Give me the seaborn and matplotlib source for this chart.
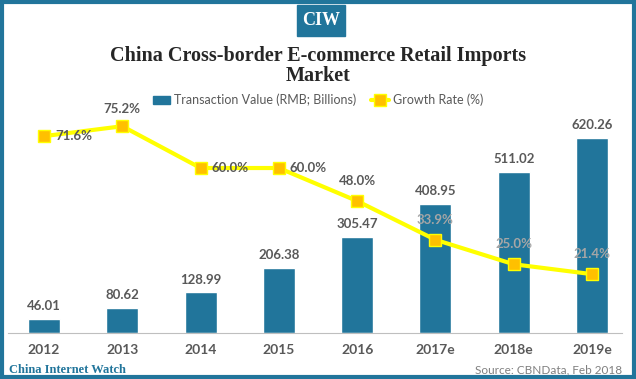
import numpy as np
import pandas as pd
import matplotlib.pyplot as plt
import seaborn as sns
from matplotlib.patches import Rectangle
from matplotlib.lines import Line2D

# data
years = ["2012", "2013", "2014", "2015", "2016", "2017e", "2018e", "2019e"]
transaction_value = [46.01, 80.62, 128.99, 206.38, 305.47, 408.95, 511.02, 620.26]
growth_rate = [71.6, 75.2, 60.0, 60.0, 48.0, 33.9, 25.0, 21.4]

bar_color = "#21759b"
line_color = "#ffff00"
marker_color = "#ffc000"
text_gray = "#595959"

sns.set_style("white")
plt.rcParams["font.family"] = ["Lato", "DejaVu Sans"]

df = pd.DataFrame({"year": years, "value": transaction_value, "growth": growth_rate})

fig = plt.figure(figsize=(6.36, 3.79), dpi=100)
W, H = 636, 379

# axes placement (pixels -> fig fraction)
L, R, B, T = 8, 622, 333, 110
ax = fig.add_axes([L / W, 1 - B / H, (R - L) / W, (B - T) / H])

sns.barplot(data=df, x="year", y="value", color=bar_color, width=0.41,
            saturation=1, ax=ax)
ax.set_xlim(-0.46, 7.383)
ax.set_ylim(0, 709)
for i, v in enumerate(transaction_value):
    ax.text(i, v + 22, f"{v:.2f}", ha="center", va="bottom", fontsize=9.5,
            color=text_gray, fontweight="bold")

ax2 = ax.twinx()
sns.lineplot(x=np.arange(len(years)), y=growth_rate, ax=ax2, color=line_color,
             linewidth=3, marker="s", markersize=8, markerfacecolor=marker_color,
             markeredgecolor=line_color, markeredgewidth=1)
ax2.set_ylim(0, 81.1)

# growth rate labels: (dx, dy) offsets in points
offsets = [(8, 0, "left"), (0, 8, "center"), (8, 0, "left"), (8, 0, "left"),
           (0, 10, "center"), (0, 10, "center"), (0, 10, "center"), (0, 10, "center")]
for i, g in enumerate(growth_rate):
    dx, dy, ha = offsets[i]
    col = "#a6a6a6" if i >= 5 else text_gray
    ax2.annotate(f"{g:.1f}%", (i, g), xytext=(dx, dy), textcoords="offset points",
                 ha=ha, va="center" if dy == 0 else "bottom", fontsize=9.5,
                 color=col, fontweight="bold")

for a in (ax, ax2):
    a.set_yticks([])
    a.set_ylabel("")
    for s in ("top", "left", "right"):
        a.spines[s].set_visible(False)
ax.spines["bottom"].set_color("#bfbfbf")
ax2.spines["bottom"].set_visible(False)
ax.set_xlabel("")
ax.tick_params(axis="x", length=0, pad=8, labelsize=10, labelcolor=text_gray)
for lab in ax.get_xticklabels():
    lab.set_fontweight("bold")

# legend
handles = [Rectangle((0, 0), 1, 1, color=bar_color),
           Line2D([], [], color=line_color, linewidth=3, marker="s", markersize=8,
                  markerfacecolor=marker_color, markeredgecolor=line_color)]
fig.legend(handles, ["Transaction Value (RMB; Billions)", "Growth Rate (%)"],
           loc="center", bbox_to_anchor=(0.5, 1 - 100 / H), ncol=2, frameon=False,
           fontsize=9, labelcolor=text_gray, handlelength=1.4, handletextpad=0.3,
           columnspacing=1.2)

# title
fig.text(0.5, 1 - 66 / H, "China Cross-border E-commerce Retail Imports\nMarket",
         ha="center", va="center", fontsize=14.5, fontweight="bold",
         family="Liberation Serif", linespacing=1.05)

# CIW badge
fig.patches.append(Rectangle((297 / W, 1 - 36 / H), 48 / W, 31 / H,
                             transform=fig.transFigure, color=bar_color))
fig.text(321 / W, 1 - 20.5 / H, "CIW", ha="center", va="center", color="white",
         fontsize=13, fontweight="bold", family="Liberation Serif")

# footer
fig.text(9 / W, 1 - 370 / H, "China Internet Watch", ha="left", va="center",
         color=bar_color, fontsize=9, fontweight="bold", family="Liberation Serif")
fig.text(622 / W, 1 - 370 / H, "Source: CBNData, Feb 2018", ha="right", va="center",
         color="#808080", fontsize=8.5)

# outer frame
fig.patches.append(Rectangle((2 / W, 2 / H), 632 / W, 375 / H, transform=fig.transFigure,
                             fill=False, edgecolor=bar_color, linewidth=3))

fig.savefig("out.png", dpi=100)
